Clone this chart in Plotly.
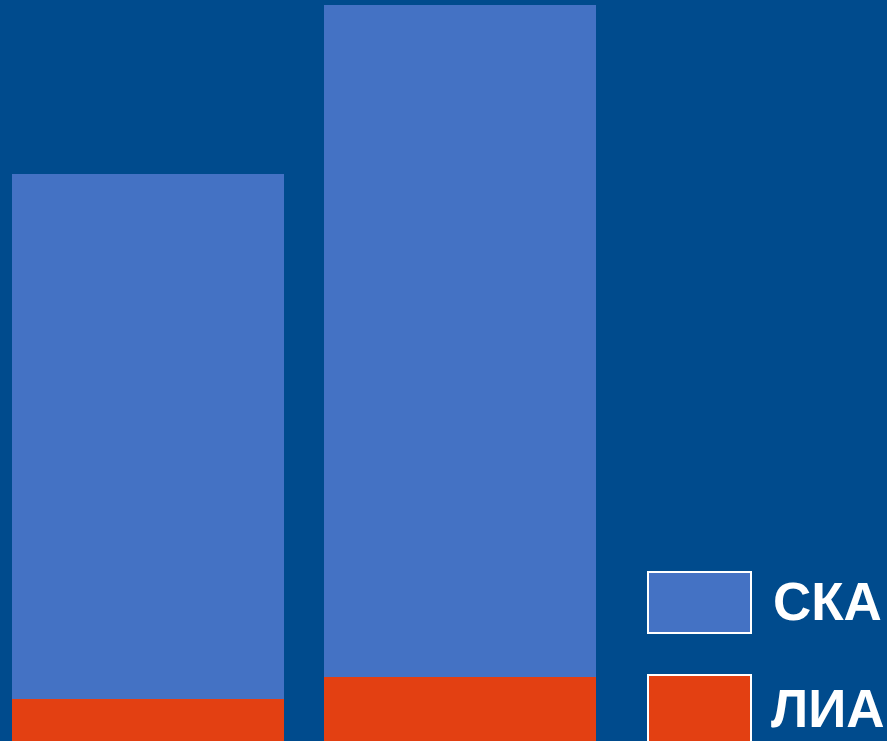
import plotly.graph_objects as go

W, H = 887, 741

categories = [0, 1]
series_names = ["СКА", "ЛИА"]
ska_values = [525, 672]
lia_values = [42, 64]

BG = "#004B8D"
BLUE = "#4472C4"
RED = "#E34012"

fig = go.Figure()
fig.add_trace(go.Bar(x=categories, y=lia_values, name=series_names[1],
                     marker=dict(color=RED, line=dict(width=0)), width=0.872))
fig.add_trace(go.Bar(x=categories, y=ska_values, name=series_names[0],
                     marker=dict(color=BLUE, line=dict(width=0)), width=0.872))


def px(x):
    return x / W


def py(y):
    return 1 - y / H


shapes = []
annotations = []
legend_items = [(series_names[0], BLUE, 572, 633, 601, 771),
                (series_names[1], RED, 675, 742, 708, 769)]
for name, col, y0, y1, ty, tx in legend_items:
    shapes.append(dict(type="rect", xref="paper", yref="paper",
                       x0=px(648), x1=px(751), y0=py(y1), y1=py(y0),
                       fillcolor=col, line=dict(color="white", width=2)))
    annotations.append(dict(xref="paper", yref="paper", x=px(tx), y=py(ty),
                            xanchor="left", yanchor="middle", showarrow=False,
                            text="<b>%s</b>" % name,
                            font=dict(family="Liberation Sans, Arial", size=53, color="white")))

fig.update_layout(
    width=W, height=H,
    margin=dict(l=0, r=0, t=0, b=0),
    paper_bgcolor=BG, plot_bgcolor=BG,
    barmode="stack", bargap=0,
    showlegend=False,
    xaxis=dict(range=[-148 / 312, (W - 148) / 312], visible=False, fixedrange=True),
    yaxis=dict(range=[0, H], visible=False, fixedrange=True),
    shapes=shapes, annotations=annotations,
)

fig.write_html("out.html",
               config={"displayModeBar": False},
               post_script="document.body.style.margin='0';document.body.style.overflow='hidden';document.body.style.background='%s';" % BG)
